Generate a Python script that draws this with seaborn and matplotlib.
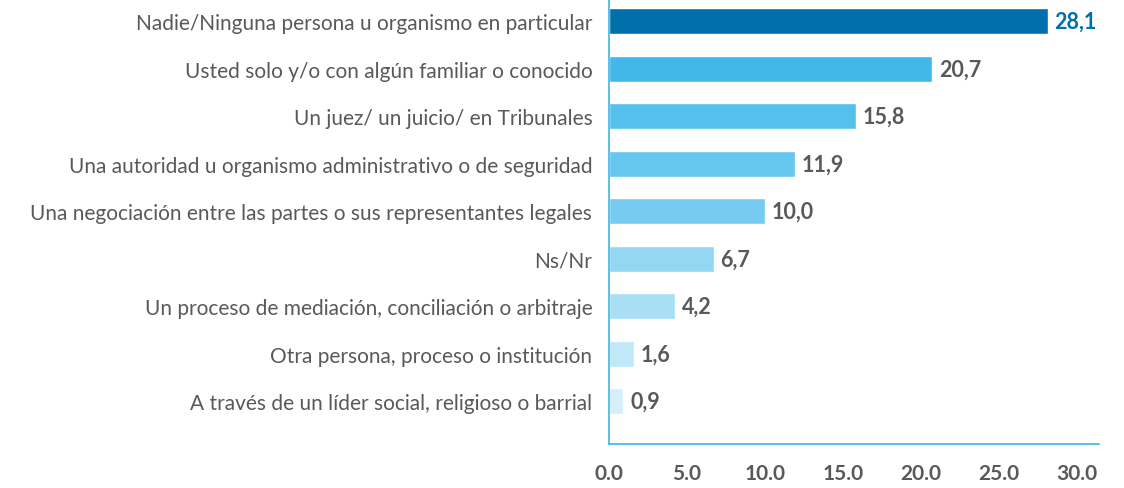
import matplotlib
matplotlib.use("Agg")
import matplotlib.pyplot as plt
import seaborn as sns
import pandas as pd

categories = [
    "Nadie/Ninguna persona u organismo en particular",
    "Usted solo y/o con algún familiar o conocido",
    "Un juez/ un juicio/ en Tribunales",
    "Una autoridad u organismo administrativo o de seguridad",
    "Una negociación entre las partes o sus representantes legales",
    "Ns/Nr",
    "Un proceso de mediación, conciliación o arbitraje",
    "Otra persona, proceso o institución",
    "A través de un líder social, religioso o barrial",
]
values = [28.1, 20.7, 15.8, 11.9, 10.0, 6.7, 4.2, 1.6, 0.9]
value_labels = ["28,1", "20,7", "15,8", "11,9", "10,0", "6,7", "4,2", "1,6", "0,9"]
tick_values = [0, 5, 10, 15, 20, 25, 30]
tick_labels = ["0.0", "5.0", "10.0", "15.0", "20.0", "25.0", "30.0"]

bar_colors = ["#006FAB", "#41B8E8", "#55C0EC", "#65C6EE", "#76CCF0",
              "#93D7F3", "#A8DFF5", "#C1E8F8", "#D6EFFA"]

df = pd.DataFrame({"categoria": categories, "valor": values})

sns.set_theme(style="white")
plt.rcParams["font.family"] = ["Lato", "DejaVu Sans"]

fig = plt.figure(figsize=(11.24, 4.89), dpi=100)
ax = fig.add_axes([0.5418, 0.09, 0.436, 0.91])

sns.barplot(data=df, x="valor", y="categoria", hue="categoria",
            palette=bar_colors, saturation=1, legend=False, width=0.55, ax=ax)

for i, (v, lab) in enumerate(zip(values, value_labels)):
    ax.text(v + 0.45, i, lab, va="center", ha="left", fontsize=15.5,
            fontweight="bold", color="#006FAB" if i == 0 else "#595959")

ax.set_xlim(0, 31.4)
ax.set_ylim(8.9, -0.47)
ax.set_xticks(tick_values)
ax.set_xticklabels(tick_labels, fontsize=15, fontweight="bold", color="#595959")
ax.tick_params(axis="y", labelsize=15, labelcolor="#595959", length=0, pad=12)
ax.tick_params(axis="x", length=0, pad=14)
ax.set_xlabel("")
ax.set_ylabel("")

for s in ["top", "right"]:
    ax.spines[s].set_visible(False)
for s in ["left", "bottom"]:
    ax.spines[s].set_color("#3DB5E6")
    ax.spines[s].set_linewidth(1.2)

fig.savefig("out.png", dpi=100)
